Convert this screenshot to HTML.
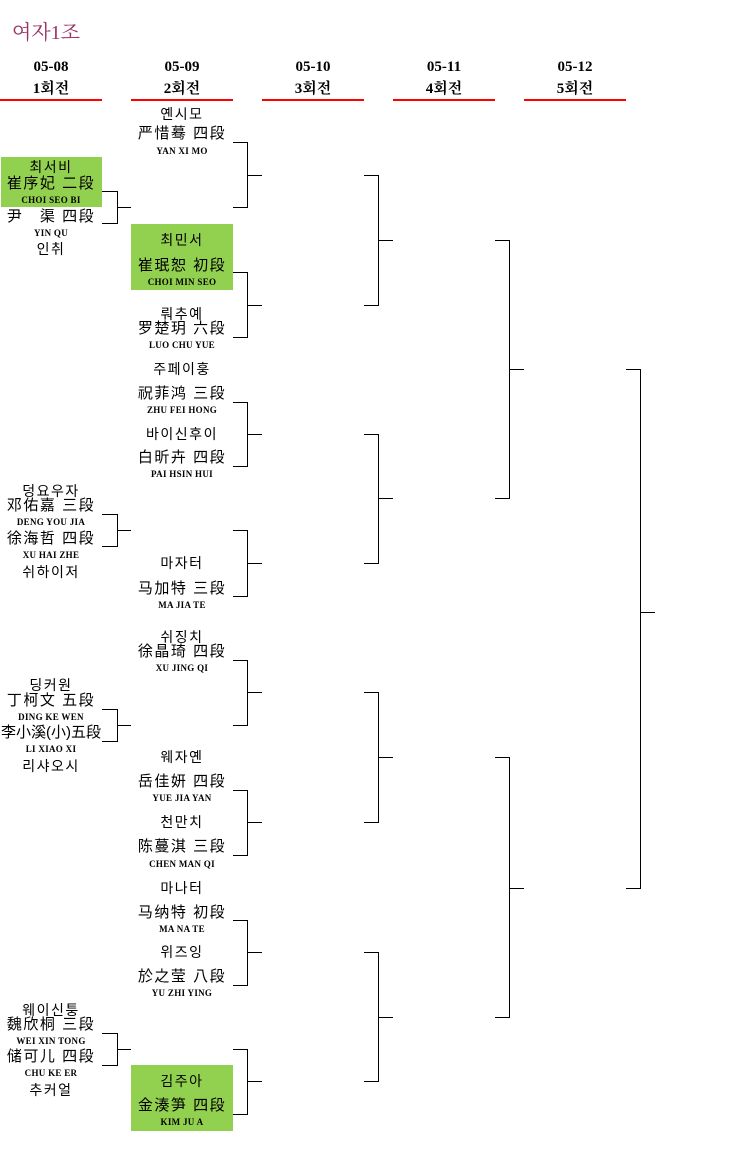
<!DOCTYPE html>
<html><head><meta charset="utf-8"><style>
body{margin:0;width:753px;height:1166px;background:#fff;position:relative;overflow:hidden;font-family:"Liberation Sans","Noto Sans CJK KR",sans-serif;color:#000}
.t{position:absolute;width:102px;text-align:center;line-height:16px;height:16px;white-space:nowrap}
.k{font-size:14px;letter-spacing:1.5px}
.c{font-size:15px;letter-spacing:1.5px}
.p{font-size:9px;font-family:"Liberation Serif",serif;font-weight:bold;letter-spacing:0.3px}
.h{position:absolute;width:102px;text-align:center;font-family:"Liberation Serif","Noto Serif CJK SC",serif;font-weight:bold;font-size:15px;line-height:18px}
.r{position:absolute;width:102px;height:2px;background:#f00;top:99px}
.g{position:absolute;background:#92d050}
svg{position:absolute;left:0;top:0}
</style></head><body>
<div style="position:absolute;left:12px;top:16px;font-size:20px;color:#993366;font-family:'Liberation Serif','Noto Serif CJK SC',serif">여자1조</div>

<div class="h" style="left:0;top:58px">05-08</div><div class="h" style="left:0;top:80px">1회전</div><div class="r" style="left:0"></div>
<div class="h" style="left:131px;top:58px">05-09</div><div class="h" style="left:131px;top:80px">2회전</div><div class="r" style="left:131px"></div>
<div class="h" style="left:262px;top:58px">05-10</div><div class="h" style="left:262px;top:80px">3회전</div><div class="r" style="left:262px"></div>
<div class="h" style="left:393px;top:58px">05-11</div><div class="h" style="left:393px;top:80px">4회전</div><div class="r" style="left:393px"></div>
<div class="h" style="left:524px;top:58px">05-12</div><div class="h" style="left:524px;top:80px">5회전</div><div class="r" style="left:524px"></div>

<div class="g" style="left:1px;top:157px;width:101px;height:50px"></div>
<div class="g" style="left:131px;top:224px;width:102px;height:66px"></div>
<div class="g" style="left:131px;top:1065px;width:102px;height:66px"></div>

<!-- col1 -->
<div class="t k" style="left:0;top:159px">최서비</div>
<div class="t c" style="left:0;top:176px">崔序妃 二段</div>
<div class="t p" style="left:0;top:192px">CHOI SEO BI</div>
<div class="t c" style="left:0;top:209px">尹　渠 四段</div>
<div class="t p" style="left:0;top:225px">YIN QU</div>
<div class="t k" style="left:0;top:241px">인취</div>

<div class="t k" style="left:0;top:483px">덩요우자</div>
<div class="t c" style="left:0;top:498px">邓佑嘉 三段</div>
<div class="t p" style="left:0;top:514px">DENG YOU JIA</div>
<div class="t c" style="left:0;top:531px">徐海哲 四段</div>
<div class="t p" style="left:0;top:547px">XU HAI ZHE</div>
<div class="t k" style="left:0;top:564px">쉬하이저</div>

<div class="t k" style="left:0;top:677px">딩커원</div>
<div class="t c" style="left:0;top:693px">丁柯文 五段</div>
<div class="t p" style="left:0;top:709px">DING KE WEN</div>
<div class="t c" style="left:0;top:725px;letter-spacing:0">李小溪(小)五段</div>
<div class="t p" style="left:0;top:741px">LI XIAO XI</div>
<div class="t k" style="left:0;top:758px">리샤오시</div>

<div class="t k" style="left:0;top:1002px">웨이신퉁</div>
<div class="t c" style="left:0;top:1017px">魏欣桐 三段</div>
<div class="t p" style="left:0;top:1033px">WEI XIN TONG</div>
<div class="t c" style="left:0;top:1049px">储可儿 四段</div>
<div class="t p" style="left:0;top:1065px">CHU KE ER</div>
<div class="t k" style="left:0;top:1082px">추커얼</div>

<!-- col2 -->
<div class="t k" style="left:131px;top:106px">옌시모</div>
<div class="t c" style="left:131px;top:126px">严惜蓦 四段</div>
<div class="t p" style="left:131px;top:143px">YAN XI MO</div>
<div class="t k" style="left:131px;top:232px">최민서</div>
<div class="t c" style="left:131px;top:258px">崔珉恕 初段</div>
<div class="t p" style="left:131px;top:274px">CHOI MIN SEO</div>
<div class="t k" style="left:131px;top:306px">뤄추예</div>
<div class="t c" style="left:131px;top:321px">罗楚玥 六段</div>
<div class="t p" style="left:131px;top:337px">LUO CHU YUE</div>
<div class="t k" style="left:131px;top:361px">주페이훙</div>
<div class="t c" style="left:131px;top:386px">祝菲鸿 三段</div>
<div class="t p" style="left:131px;top:402px">ZHU FEI HONG</div>
<div class="t k" style="left:131px;top:426px">바이신후이</div>
<div class="t c" style="left:131px;top:450px">白昕卉 四段</div>
<div class="t p" style="left:131px;top:466px">PAI HSIN HUI</div>
<div class="t k" style="left:131px;top:555px">마자터</div>
<div class="t c" style="left:131px;top:581px">马加特 三段</div>
<div class="t p" style="left:131px;top:597px">MA JIA TE</div>
<div class="t k" style="left:131px;top:629px">쉬징치</div>
<div class="t c" style="left:131px;top:644px">徐晶琦 四段</div>
<div class="t p" style="left:131px;top:660px">XU JING QI</div>
<div class="t k" style="left:131px;top:749px">웨자옌</div>
<div class="t c" style="left:131px;top:774px">岳佳妍 四段</div>
<div class="t p" style="left:131px;top:790px">YUE JIA YAN</div>
<div class="t k" style="left:131px;top:814px">천만치</div>
<div class="t c" style="left:131px;top:839px">陈蔓淇 三段</div>
<div class="t p" style="left:131px;top:856px">CHEN MAN QI</div>
<div class="t k" style="left:131px;top:880px">마나터</div>
<div class="t c" style="left:131px;top:905px">马纳特 初段</div>
<div class="t p" style="left:131px;top:921px">MA NA TE</div>
<div class="t k" style="left:131px;top:944px">위즈잉</div>
<div class="t c" style="left:131px;top:969px">於之莹 八段</div>
<div class="t p" style="left:131px;top:985px">YU ZHI YING</div>
<div class="t k" style="left:131px;top:1073px">김주아</div>
<div class="t c" style="left:131px;top:1098px">金湊笋 四段</div>
<div class="t p" style="left:131px;top:1114px">KIM JU A</div>

<svg width="753" height="1166" fill="none" stroke="#000" stroke-width="1" shape-rendering="crispEdges">
<path d="M102 191.5H117.5V223.5H102M117 207.5H131"/>
<path d="M102 514.5H117.5V546.5H102M117 530.5H131"/>
<path d="M102 709.5H117.5V741.5H102M117 725.5H131"/>
<path d="M102 1033.5H117.5V1065.5H102M117 1049.5H131"/>

<path d="M233 142.5H247.5V207.5H233M247 175.5H262"/>
<path d="M233 272.5H247.5V337.5H233M247 305.5H262"/>
<path d="M233 402.5H247.5V466.5H233M247 434.5H262"/>
<path d="M233 530.5H247.5V596.5H233M247 563.5H262"/>
<path d="M233 660.5H247.5V725.5H233M247 692.5H262"/>
<path d="M233 790.5H247.5V855.5H233M247 822.5H262"/>
<path d="M233 920.5H247.5V985.5H233M247 952.5H262"/>
<path d="M233 1049.5H247.5V1114.5H233M247 1081.5H262"/>

<path d="M364 175.5H378.5V305.5H364M378 240.5H393"/>
<path d="M364 434.5H378.5V563.5H364M378 498.5H393"/>
<path d="M364 692.5H378.5V822.5H364M378 757.5H393"/>
<path d="M364 952.5H378.5V1081.5H364M378 1017.5H393"/>

<path d="M495 240.5H509.5V498.5H495M509 369.5H524"/>
<path d="M495 757.5H509.5V1017.5H495M509 888.5H524"/>

<path d="M626 369.5H640.5V888.5H626M640 612.5H655"/>
</svg>
</body></html>
